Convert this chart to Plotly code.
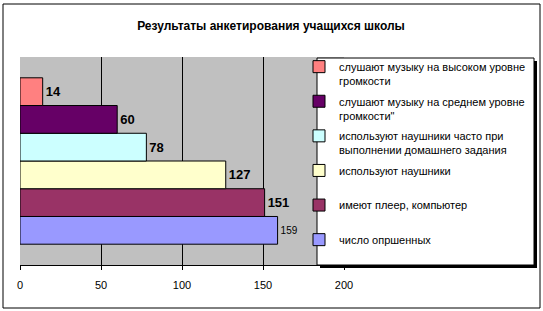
import plotly.graph_objects as go

title = "Результаты анкетирования учащихся школы"
series_names = [
    "число опршенных<br> ",
    "имеют плеер, компьютер<br> ",
    "используют наушники<br> ",
    "используют наушники часто при<br>выполнении домашнего задания",
    "слушают музыку на среднем уровне<br>громкости\"",
    "слушают музыку на высоком уровне<br>громкости",
]
values = [159, 151, 127, 78, 60, 14]
colors = ["#9999FF", "#993366", "#FFFFCC", "#CCFFFF", "#660066", "#FF8080"]
label_sizes = [10, 13, 13, 13, 13, 13]
x_ticks = [0, 50, 100, 150, 200]

W, H = 543, 311
ML, MR, MT, MB = 20, 199, 57, 46
PW, PH = W - ML - MR, H - MT - MB
FONT = "Liberation Sans"

fig = go.Figure()
n = len(values)
for i, (name, v, c, ls) in enumerate(zip(series_names, values, colors, label_sizes)):
    fig.add_trace(go.Bar(
        y=["всего"], x=[v], orientation="h", name=name,
        marker=dict(color=c, line=dict(color="black", width=1)),
        text=[str(v)], textposition="outside", cliponaxis=False,
        constraintext="none",
        textfont=dict(family=FONT, size=ls, color="black",
                      weight="bold" if ls > 10 else "normal"),
        legendgroup=name, legendrank=1000 - i,
    ))

def px(x):
    return (x - ML) / PW

def py(y):
    return 1 - (y - MT) / PH

shapes = [
    # outer chart border
    dict(type="rect", xref="paper", yref="paper", x0=px(3), x1=px(540), y0=py(308), y1=py(4),
         line=dict(color="black", width=1), layer="above"),
    # legend shadow
    dict(type="rect", xref="paper", yref="paper", x0=px(320), x1=px(537), y0=py(268), y1=py(61),
         fillcolor="black", line=dict(width=0), layer="above"),
    # legend box
    dict(type="rect", xref="paper", yref="paper", x0=px(317), x1=px(534), y0=py(265), y1=py(58),
         fillcolor="white", line=dict(color="black", width=1), layer="above"),
]

fig.update_layout(
    width=W, height=H,
    margin=dict(l=ML, r=MR, t=MT, b=MB, autoexpand=False),
    paper_bgcolor="white", plot_bgcolor="#C0C0C0",
    font=dict(family=FONT, size=11, color="black"),
    title=dict(text="<b>" + title + "</b>", x=271 / W, xanchor="center", xref="container",
               y=1 - 26 / H, yanchor="middle", yref="container",
               font=dict(size=12, family=FONT)),
    barmode="group", bargap=0.2, bargroupgap=0,
    showlegend=True,
    legend=dict(x=299 / W, xanchor="left", y=1 - 53 / H, yanchor="top",
                xref="container", yref="container", maxheight=300,
                bgcolor="rgba(0,0,0,0)", borderwidth=0,
                traceorder="grouped", valign="top",
                font=dict(family=FONT, size=11), tracegroupgap=3),
    shapes=shapes,
    xaxis=dict(range=[0, 200], tickvals=x_ticks, ticktext=[str(t) for t in x_ticks],
               showgrid=True, gridcolor="black", gridwidth=1,
               showline=True, linecolor="black", linewidth=1,
               ticks="outside", ticklen=4, tickcolor="black", ticklabelstandoff=6,
               zeroline=False, tickfont=dict(size=11)),
    yaxis=dict(showticklabels=False, showgrid=False, zeroline=False, showline=False,
               ticks=""),
)

fig.write_html("out.html")
